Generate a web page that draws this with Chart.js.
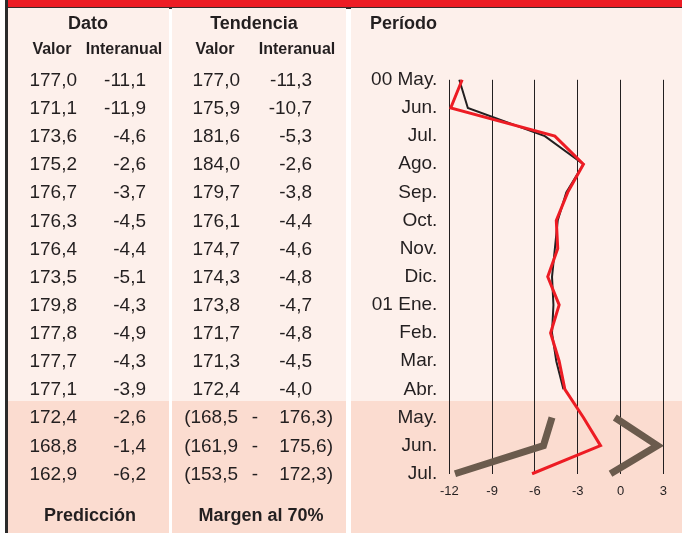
<!DOCTYPE html>
<html>
<head>
<meta charset="utf-8">
<script src="https://cdn.jsdelivr.net/npm/chart.js@4"></script>
<style>
  body { margin: 0; background: #fff; font-family: "Liberation Sans", Arial, sans-serif; color: #231f20; }
  #wrap { position: relative; width: 682px; height: 533px; overflow: hidden; }
  .box { position: absolute; }
  .t { position: absolute; white-space: nowrap; line-height: 20px; height: 20px; }
  .num { font-size: 19px; }
  .b { font-weight: bold; }
  canvas { position: absolute; left: 0; top: 0; }
</style>
</head>
<body>
<div id="wrap">
  <canvas id="chart" width="682" height="533"></canvas>
</div>
<script>
const periodos = ["00 May.", "Jun.", "Jul.", "Ago.", "Sep.", "Oct.", "Nov.", "Dic.", "01 Ene.", "Feb.", "Mar.", "Abr.", "May.", "Jun.", "Jul."];

const datoValor = [177.0, 171.1, 173.6, 175.2, 176.7, 176.3, 176.4, 173.5, 179.8, 177.8, 177.7, 177.1];
const datoInter = [-11.1, -11.9, -4.6, -2.6, -3.7, -4.5, -4.4, -5.1, -4.3, -4.9, -4.3, -3.9];
const tendValor = [177.0, 175.9, 181.6, 184.0, 179.7, 176.1, 174.7, 174.3, 173.8, 171.7, 171.3, 172.4];
const tendInter = [-11.3, -10.7, -5.3, -2.6, -3.8, -4.4, -4.6, -4.8, -4.7, -4.8, -4.5, -4.0];

const predValor = [172.4, 168.8, 162.9];
const predInter = [-2.6, -1.4, -6.2];
const margenInf = [168.5, 161.9, 153.5];
const margenSup = [176.3, 175.6, 172.3];
const margenInterInf = [-4.8, -5.4, -11.6];
const margenInterSup = [-0.4, 2.6, -0.7];

const xTicks = [-12, -9, -6, -3, 0, 3];

const ROW0 = 79.8, ROWH = 28.14;
const wrap = document.getElementById("wrap");
const fmt = v => v.toFixed(1).replace(".", ",");

const box = (x, y, w, h, color) => {
    const d = document.createElement("div");
    d.className = "box";
    Object.assign(d.style, { left: x + "px", top: y + "px", width: w + "px", height: h + "px", background: color });
    wrap.insertBefore(d, wrap.firstChild);
};

// align: "r" = x is right edge, "c" = x is centre, "l" = x is left edge
const text = (str, x, cy, align, cls) => {
    const d = document.createElement("div");
    d.className = "t " + (cls || "num");
    d.textContent = str;
    d.style.top = (cy - 10) + "px";
    if (align === "r") { d.style.right = (682 - x) + "px"; }
    else if (align === "c") { d.style.left = (x - 200) + "px"; d.style.width = "400px"; d.style.textAlign = "center"; }
    else { d.style.left = x + "px"; }
    wrap.appendChild(d);
};

// panels (upper part light, prediction rows darker)
const LIGHT = "#fdf0eb", DARK = "#fbdcd0", SPLIT = 401;
[[8, 161], [172, 174], [351, 331]].forEach(([x, w]) => {
    box(x, 8, w, SPLIT - 8, LIGHT);
    box(x, SPLIT, w, 533 - SPLIT, DARK);
});
box(5, 0, 3, 533, "#2b2b2b");
box(7, 0, 675, 7, "#ed1c24");
box(7, 7, 675, 1.5, "#3a2a2a");

// headers
text("Dato", 88, 23, "c", "b big");
text("Tendencia", 254, 23, "c", "b big");
text("Período", 370, 23, "l", "b big");
text("Valor", 52, 49, "c", "b sub");
text("Interanual", 124, 49, "c", "b sub");
text("Valor", 215, 49, "c", "b sub");
text("Interanual", 297, 49, "c", "b sub");
text("Predicción", 90, 515, "c", "b big");
text("Margen al 70%", 261, 515, "c", "b big");

datoValor.forEach((v, i) => {
    const cy = ROW0 + i * ROWH;
    text(fmt(v), 77, cy, "r");
    text(fmt(datoInter[i]), 146, cy, "r");
    text(fmt(tendValor[i]), 240, cy, "r");
    text(fmt(tendInter[i]), 312, cy, "r");
});
predValor.forEach((v, i) => {
    const cy = ROW0 + (datoValor.length + i) * ROWH;
    text(fmt(v), 77, cy, "r");
    text(fmt(predInter[i]), 146, cy, "r");
    text("(" + fmt(margenInf[i]), 238, cy, "r");
    text("-", 255, cy, "c");
    text(fmt(margenSup[i]) + ")", 333, cy, "r");
});

const st = document.createElement("style");
st.textContent = ".big{font-size:18px}.sub{font-size:16px}";
document.head.appendChild(st);

const pad = n => Array(n).fill(null);
const nHist = datoInter.length;

new Chart(document.getElementById("chart"), {
    type: "line",
    data: {
        labels: periodos,
        datasets: [
            { data: datoInter.concat(predInter), borderColor: "#ed1c24", borderWidth: 3 },
            { data: tendInter.concat(pad(predInter.length)), borderColor: "#231f20", borderWidth: 2 },
            { data: pad(nHist).concat(margenInterInf), borderColor: "#6b5b4d", borderWidth: 7, borderJoinStyle: "miter" },
            { data: pad(nHist).concat(margenInterSup), borderColor: "#6b5b4d", borderWidth: 7, borderJoinStyle: "miter" }
        ]
    },
    options: {
        indexAxis: "y",
        responsive: false,
        animation: false,
        devicePixelRatio: 1,
        elements: { point: { radius: 0 }, line: { tension: 0, borderCapStyle: "butt" } },
        layout: { padding: { left: 351, right: 18.7, top: ROW0, bottom: 533 - (ROW0 + 14 * ROWH) - 30 } },
        plugins: { legend: { display: false }, tooltip: { enabled: false } },
        scales: {
            x: {
                type: "linear",
                min: -12,
                max: 3,
                afterBuildTicks: s => { s.ticks = xTicks.map(v => ({ value: v })); },
                afterFit: s => { s.height = 30; },
                grid: { color: "#231f20", lineWidth: 1, drawTicks: false },
                border: { display: false },
                ticks: { padding: 10, color: "#231f20", font: { family: "Liberation Sans", size: 13 } }
            },
            y: {
                type: "category",
                afterFit: s => { s.width = 98.3; },
                grid: { display: false, drawTicks: false },
                border: { display: false },
                ticks: { padding: 12, color: "#231f20", font: { family: "Liberation Sans", size: 19 } }
            }
        }
    }
});
</script>
</body>
</html>
